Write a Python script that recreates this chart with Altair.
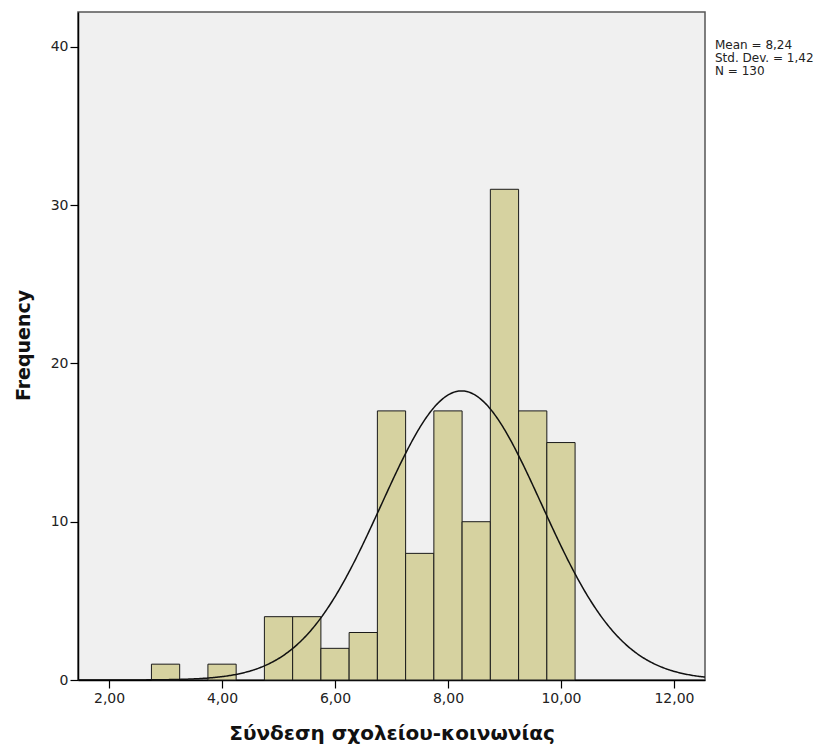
import altair as alt
import pandas as pd

# Histogram bins (lower / upper edges) and frequencies
bin_start = [2.75, 3.25, 3.75, 4.25, 4.75, 5.25, 5.75, 6.25, 6.75, 7.25, 7.75, 8.25, 8.75, 9.25, 9.75]
bin_end = [3.25, 3.75, 4.25, 4.75, 5.25, 5.75, 6.25, 6.75, 7.25, 7.75, 8.25, 8.75, 9.25, 9.75, 10.25]
counts = [1, 0, 1, 0, 4, 4, 2, 3, 17, 8, 17, 10, 31, 17, 15]

# Summary statistics shown in the chart
mean_val = 8.24
sd_val = 1.42
n_val = 130
bin_width = 0.5

stats_text = "Mean = 8,24\nStd. Dev. = 1,42\nN = 130"

x_ticks = [2, 4, 6, 8, 10, 12]
y_ticks = [0, 10, 20, 30, 40]

W, H = 627, 668
x_dom = [1.45, 12.55]
y_dom = [0, 42.2]

bars_df = pd.DataFrame({"start": bin_start, "end": bin_end, "count": counts})
bars_df = bars_df[bars_df["count"] > 0]

xs = alt.Scale(domain=x_dom, nice=False, zero=False)
ys = alt.Scale(domain=y_dom, nice=False)

label_expr = "replace(format(datum.value, '.2f'), '.', ',')"

bars = alt.Chart(bars_df).mark_rect(
    fill="#D6D2A0", stroke="#1a1a1a", strokeWidth=1
).encode(
    x=alt.X("start:Q", scale=xs,
            axis=alt.Axis(values=x_ticks, labelExpr=label_expr, title="Σύνδεση σχολείου-κοινωνίας",
                          grid=False, domainColor="#000", domainWidth=1.5, tickColor="#000",
                          tickSize=8, tickWidth=1.2, labelFont="DejaVu Sans", labelFontSize=14,
                          labelColor="#222", labelPadding=3,
                          titleFont="DejaVu Sans", titleFontSize=20, titleFontWeight="bold",
                          titleColor="#111", titleY=53, titleBaseline="middle")),
    x2="end:Q",
    y=alt.Y("count:Q", scale=ys,
            axis=alt.Axis(values=y_ticks, title="Frequency", grid=False, domainColor="#000",
                          domainWidth=1.5, tickColor="#000", tickSize=8, tickWidth=1.2,
                          labelFont="DejaVu Sans", labelFontSize=14, labelColor="#222",
                          labelPadding=2,
                          titleFont="DejaVu Sans", titleFontSize=19, titleFontWeight="bold",
                          titleColor="#111", titleX=-55, titleY=H / 2 - 1,
                          titleBaseline="middle", titleAngle=270)),
    y2=alt.datum(0),
)

curve = alt.Chart(alt.sequence(start=1.45, stop=12.56, step=0.02, as_="x")).transform_calculate(
    y=f"{n_val} * {bin_width} * exp(-0.5 * pow((datum.x - {mean_val}) / {sd_val}, 2)) / ({sd_val} * sqrt(2 * PI))"
).mark_line(color="#111", strokeWidth=1.5, clip=True).encode(
    x=alt.X("x:Q", scale=xs),
    y=alt.Y("y:Q", scale=ys),
)

stats = alt.Chart(pd.DataFrame({"t": [stats_text]})).mark_text(
    align="left", baseline="top", font="DejaVu Sans", fontSize=12, color="#222",
    lineBreak="\n", lineHeight=13
).encode(
    x=alt.value(W + 10),
    y=alt.value(28),
    text="t:N",
)

chart = alt.layer(bars, curve, stats).properties(
    width=W, height=H,
    autosize=alt.AutoSizeParams(type="none"),
    padding={"left": 78, "top": 12, "right": 131, "bottom": 71},
    background="#ffffff",
).configure_view(
    fill="#F0F0F0", stroke="#555555", strokeWidth=1.5
)

chart.save("out.html", embed_options={"renderer": "svg", "actions": False})
